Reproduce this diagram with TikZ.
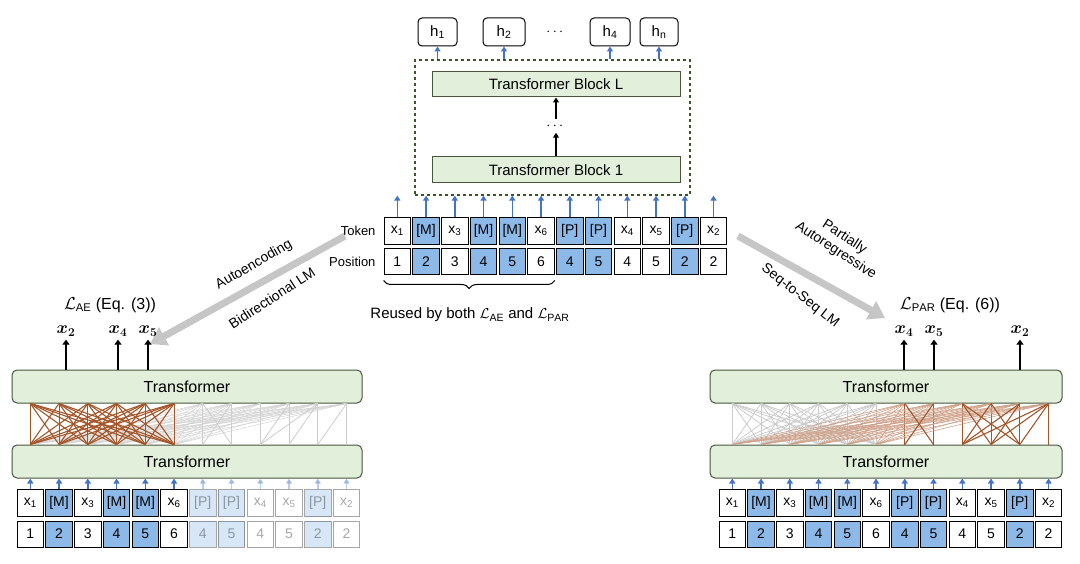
\documentclass[tikz,border=0pt]{standalone}
\usepackage{amsmath,bm}
\usepackage{fontspec}
\setmainfont{Liberation Sans}
\usetikzlibrary{arrows.meta,decorations.pathreplacing}
\definecolor{c0}{RGB}{255,255,255}
\definecolor{c1}{RGB}{141,185,232}
\definecolor{gfill}{RGB}{226,239,218}
\definecolor{gline}{RGB}{70,85,60}
\definecolor{dgreen}{RGB}{56,87,35}
\definecolor{barr}{RGB}{68,114,196}
\definecolor{brn}{RGB}{165,85,40}
\begin{document}
\begin{tikzpicture}[x=1pt,y=-1pt,
 cell/.style={draw=black,line width=1pt,minimum width=26.5,minimum height=27,inner sep=0,font=\fontsize{14}{14}\selectfont},
 tr/.style={draw=gline,fill=gfill,rounded corners=5,line width=1pt,font=\fontsize{16}{16}\selectfont,inner sep=0},
 barrow/.style={barr,line width=1.6pt,-{Triangle[length=5,width=6]}},
 karrow/.style={black,line width=2.4pt,-{Triangle[length=5,width=7]}},
 big/.style={gray!45,line width=7pt,-{Triangle[length=16,width=20]}},
 lab/.style={font=\fontsize{14}{16}\selectfont,align=center},
 att/.style={line width=0.8pt}]
\useasboundingbox (0,0) rectangle (1080,564);
\newcommand\seqrows[4]{%
\foreach \t/\p/\b [count=\i] in {x\textsubscript{1}/1/0,{[M]}/2/1,x\textsubscript{3}/3/0,{[M]}/4/1,{[M]}/5/1,x\textsubscript{6}/6/0,{[P]}/4/1,{[P]}/5/1,x\textsubscript{4}/4/0,x\textsubscript{5}/5/0,{[P]}/2/1,x\textsubscript{2}/2/0}{%
 \pgfmathsetmacro\cx{#2+14.3+28.75*(\i-1)}
 \pgfmathsetmacro\op{\i>#4?0.35:1}
 \node[cell,fill=c\b,opacity=\op,text opacity=\op] (#1t\i) at (\cx,#3+14) {\t};
 \node[cell,fill=c\b,opacity=\op,text opacity=\op,minimum height=26] (#1p\i) at (\cx,#3+45) {\p};
}}
% ---- central ----
\seqrows{c}{383}{217}{12}
\node[font=\fontsize{13}{13}\selectfont,anchor=east] at (379,231) {Token};
\node[font=\fontsize{13}{13}\selectfont,anchor=east] at (379,262) {Position};
\node[draw=dgreen,dashed,line width=1.2pt,minimum width=275,minimum height=135,inner sep=0] (dash) at (552.5,127.5) {};
\node[tr,rounded corners=0,minimum width=248,minimum height=25,font=\fontsize{15}{15}\selectfont] (bL) at (556,84.5) {Transformer Block L};
\node[tr,rounded corners=0,minimum width=248,minimum height=26,font=\fontsize{15}{15}\selectfont] (b1) at (556,170) {Transformer Block 1};
\node[font=\fontsize{14}{14}\selectfont] (vd) at (556,126) {$\cdots$};
\draw[black,line width=1.6pt,-{Triangle[length=5,width=6]}] (b1) -- (vd);
\draw[black,line width=1.6pt,-{Triangle[length=5,width=6]}] (vd) -- (bL);
\foreach \n/\t/\x/\w in {h1/h\textsubscript{1}/437.5/39,h2/h\textsubscript{2}/504/42,h4/h\textsubscript{4}/610/40,hn/h\textsubscript{n}/659/38}{
 \node[draw,rounded corners=4,line width=1pt,minimum width=\w,minimum height=28,inner sep=0,font=\fontsize{15}{15}\selectfont] (\n) at (\x,32) {\t};
 \draw[barrow] (\n.south |- dash.north) -- (\n.south);}
\node[font=\fontsize{14}{14}\selectfont] at (556,32) {$\cdots$};
\foreach \i in {1,...,12}{\draw[barrow] (ct\i.north) -- (ct\i.north |- dash.south);}
\draw[decorate,decoration={brace,mirror,amplitude=8},line width=1pt] ([yshift=-5]cp1.south west) -- ([yshift=-5]cp6.south east);
\node[font=\fontsize{15}{15}\selectfont] at (470,315) {Reused by both $\mathcal{L}_{\mathrm{AE}}$ and $\mathcal{L}_{\mathrm{PAR}}$};
% ---- big arrows ----
\coordinate (la) at (345,236); \coordinate (lb) at (150,344);
\coordinate (ra) at (738,236); \coordinate (rb) at (885,318);
\draw[big] (la) -- (lb);
\draw[big] (ra) -- (rb);
\node[lab,rotate=30] at (254,265) {Autoencoding};
\node[lab,rotate=33] at (272,298) {Bidirectional LM};
\node[lab,rotate=-33] at (840,244) {Partially\\Autoregressive};
\node[lab,rotate=-38] at (800,296) {Seq-to-Seq LM};
% ---- left ----
\seqrows{l}{16}{489}{6}
\node[tr,minimum width=350,minimum height=33] (lT) at (187,386.5) {Transformer};
\node[tr,minimum width=350,minimum height=33] (lB) at (187,461.5) {Transformer};
\foreach \i in {1,...,12}{\pgfmathsetmacro\op{\i>6?0.35:1}\draw[barrow,opacity=\op] (lt\i.north) -- (lt\i.north |- lB.south);}
\foreach \i in {7,...,12}{\draw[att,gray!40] (lt\i |- lB.north) -- (lt\i |- lT.south);
 \foreach \j in {1,...,6}{\draw[att,gray!35,line width=0.5pt] (lt\j |- lB.north) -- (lt\i |- lT.south);}}
\draw[att,gray!40] (lt7 |- lB.north) -- (lt8 |- lT.south) (lt8 |- lB.north) -- (lt7 |- lT.south);
\foreach \a/\c in {9/10,9/11,10/11,11/12}{\draw[att,gray!40] (lt\a |- lB.north) -- (lt\c |- lT.south);}
\foreach \i in {1,...,6}{\foreach \j in {1,...,6}{\draw[att,brn,line width=1.1pt] (lt\j |- lB.north) -- (lt\i |- lT.south);}}
\node[font=\fontsize{16}{16}\selectfont] at (110,305) {$\mathcal{L}_{\mathrm{AE}}$ (Eq. (3))};
\foreach \n/\k/\x in {a2/2/66,a4/4/118,a5/5/148}{
 \node[font=\fontsize{17}{17}\selectfont] (\n) at (\x,331) {$\bm{x_{\k}}$};
 \draw[karrow] (\n |- lT.north) -- (\n.south);}
% ---- right ----
\seqrows{r}{718}{489}{12}
\node[tr,minimum width=352,minimum height=33] (rT) at (886,386.5) {Transformer};
\node[tr,minimum width=352,minimum height=33] (rB) at (886,461.5) {Transformer};
\foreach \i in {1,...,12}{\draw[barrow] (rt\i.north) -- (rt\i.north |- rB.south);}
\foreach \i in {1,...,6}{\foreach \j in {1,...,6}{\draw[att,gray!40] (rt\j |- rB.north) -- (rt\i |- rT.south);}}
\foreach \i in {7,...,12}{\foreach \j in {1,...,6}{\draw[att,brn!55,line width=0.6pt] (rt\j |- rB.north) -- (rt\i |- rT.south);}
 \draw[att,brn,line width=1.1pt] (rt\i |- rB.north) -- (rt\i |- rT.south);}
\foreach \a/\c in {7/8,8/7,9/10,10/9,9/11,10/11,11/9,11/10,9/12,10/12,11/12}{\draw[att,brn,line width=1.1pt] (rt\a |- rB.north) -- (rt\c |- rT.south);}
\node[font=\fontsize{16}{16}\selectfont] at (950,305) {$\mathcal{L}_{\mathrm{PAR}}$ (Eq. (6))};
\foreach \n/\k/\x in {b4/4/904,b5/5/934,b2/2/1020}{
 \node[font=\fontsize{17}{17}\selectfont] (\n) at (\x,331) {$\bm{x_{\k}}$};
 \draw[karrow] (\n |- rT.north) -- (\n.south);}
\end{tikzpicture}
\end{document}
